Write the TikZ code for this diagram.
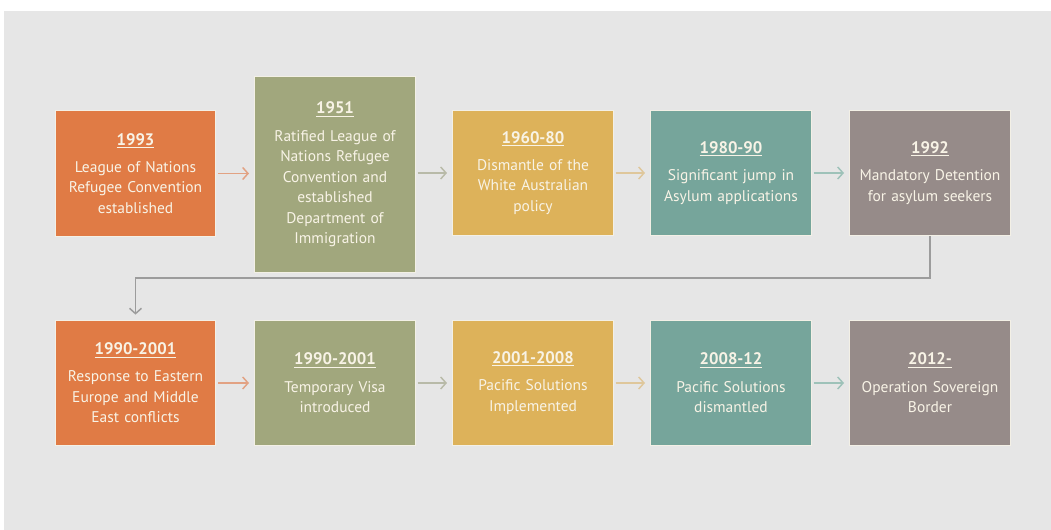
\documentclass[tikz,border=0pt]{standalone}
\usepackage{fontspec}
\setmainfont{PT Sans}
\usetikzlibrary{arrows.meta}
\definecolor{bgc}{HTML}{E6E6E6}
\definecolor{corange}{HTML}{E07B45}
\definecolor{cgreen}{HTML}{A1A77D}
\definecolor{cgold}{HTML}{DDB25A}
\definecolor{cteal}{HTML}{76A59B}
\definecolor{cgray}{HTML}{968B89}
\definecolor{aorange}{HTML}{E2A283}
\definecolor{agreen}{HTML}{B8BAA8}
\definecolor{agold}{HTML}{DFC79B}
\definecolor{ateal}{HTML}{9EC2B9}
\definecolor{aelbow}{HTML}{9C9C9C}
\definecolor{txt}{HTML}{F8F3E6}
\definecolor{edge}{HTML}{F3F0E6}
\tikzset{
  evbox/.style={draw=edge, line width=0.6pt, minimum width=120.4pt, minimum height=94pt,
    inner sep=0pt, align=center, text width=118pt, text=txt,
    font=\fontsize{11.6}{15.4}\selectfont},
  tall/.style={minimum height=146.5pt},
  link/.style={line width=1.1pt, -{Straight Barb[length=4pt,width=9pt]}, shorten <=1.5pt, shorten >=4pt},
}
\newcommand{\yr}[1]{{\fontsize{12.5}{15}\selectfont\bfseries\underline{#1}}\\[5pt]}
\begin{document}
\begin{tikzpicture}[x=0.75pt,y=-0.75pt]
\useasboundingbox (0,0) rectangle (1051,530);
\fill[white] (0,0) rectangle (1051,530);
\fill[bgc] (4,11) rectangle (1051,530);
% row 1
\node[evbox, fill=corange] (b1) at (135.5,173.5) {\yr{1993}League of Nations\\Refugee Convention\\established};
\node[evbox, tall, fill=cgreen] (b2) at (335,174.5) {\yr{1951}Ratified League of\\Nations Refugee\\Convention and\\established\\Department of\\Immigration};
\node[evbox, fill=cgold] (b3) at (533,173) {\yr{1960-80}Dismantle of the\\White Australian\\policy};
\node[evbox, fill=cteal] (b4) at (731,173) {\yr{1980-90}Significant jump in\\Asylum applications};
\node[evbox, fill=cgray] (b5) at (930,173) {\yr{1992}Mandatory Detention\\for asylum seekers};
% row 2
\node[evbox, fill=corange] (b6) at (135.5,383) {\yr{1990-2001}Response to Eastern\\Europe and Middle\\East conflicts};
\node[evbox, fill=cgreen] (b7) at (335,383) {\yr{1990-2001}Temporary Visa\\introduced};
\node[evbox, fill=cgold] (b8) at (533,383) {\yr{2001-2008}Pacific Solutions\\Implemented};
\node[evbox, fill=cteal] (b9) at (731,383) {\yr{2008-12}Pacific Solutions\\dismantled};
\node[evbox, fill=cgray] (b10) at (930,383) {\yr{2012-}Operation Sovereign\\Border};
% arrows row 1
\draw[link, aorange] (b1.east |- 0,173.5) -- (b2.west |- 0,173.5);
\draw[link, agreen] (b2.east |- b3.east) -- (b3.west);
\draw[link, agold] (b3) -- (b4);
\draw[link, ateal] (b4) -- (b5);
% elbow
\coordinate (turn) at (0,278);
\draw[aelbow, line width=1.1pt, -{Straight Barb[length=4pt,width=9pt]}, shorten >=4pt]
  (b5.south) |- (turn -| b6.north) -- (b6.north);
% arrows row 2
\draw[link, aorange] (b6) -- (b7);
\draw[link, agreen] (b7) -- (b8);
\draw[link, agold] (b8) -- (b9);
\draw[link, ateal] (b9) -- (b10);
\end{tikzpicture}
\end{document}
